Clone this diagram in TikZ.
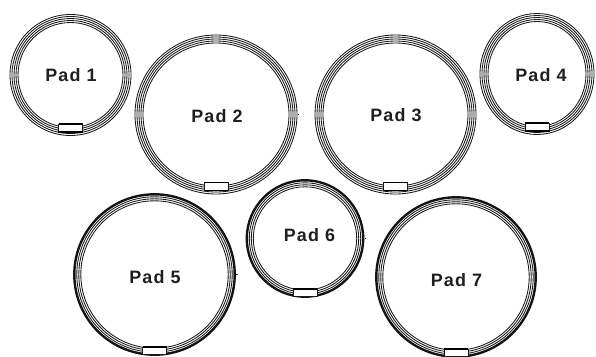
\documentclass[tikz,border=0pt]{standalone}
\usepackage{fontspec}
\newfontfamily\padfont{Liberation Sans}[LetterSpace=6]
\tikzset{
  padlabel/.style={font=\padfont\bfseries\fontsize{18}{20}\selectfont, text=black!88, inner sep=0pt},
  ring/.style={line width=0.85bp, draw=black!90},
  rim/.style={line width=2.4bp, draw=black!92},
  tabbox/.style={fill=white, draw=black!90, line width=0.9bp},
  notch/.style={line width=0.8bp, draw=black!85},
}
% thin-ringed pad: cx, cy, rx, ry
\newcommand\padthin[4]{%
  \foreach \k in {0,...,4}{%
    \draw[ring] (#1,#2) ellipse[x radius={(#3-0.5-2*\k)*1bp}, y radius={(#4-0.5-2*\k)*1bp}];}
  \draw[tabbox] (#1-12,#2+#4-12) rectangle (#1+12,#2+#4-4);
  \draw[line width=1.8bp] (#1-12,#2+#4-12) -- (#1+12,#2+#4-12);
  \draw[line width=1.4bp] (#1-12,#2+#4-4) -- (#1+12,#2+#4-4);
}
% thick-rimmed pad: cx, cy, r
\newcommand\padthick[3]{%
  \draw[rim] (#1,#2) circle[radius={(#3-1.3)*1bp}];
  \foreach \k in {0,...,2}{%
    \draw[ring] (#1,#2) circle[radius={(#3-3.8-2*\k)*1bp}];}
  \draw[tabbox] (#1-12,#2+#3-9) rectangle (#1+12,#2+#3-1.5);
  \draw[line width=1.6bp] (#1-12,#2+#3-9) -- (#1+12,#2+#3-9);
}
\begin{document}
\begin{tikzpicture}[x=1bp,y=-1bp]
  \useasboundingbox[fill=white] (0,0) rectangle (596,356);
  % top row
  \padthin{70.5}{75}{61}{61}
  \padthin{216}{114.5}{81.5}{80}
  \padthin{395.5}{114.5}{81}{80}
  \padthin{537}{74}{57.5}{61}
  % bottom row
  \padthick{154.5}{274.5}{81.5}
  \padthick{305}{238.5}{59.5}
  \padthick{456}{277}{81}
  % small notches on the right side
  \coordinate (n2) at (297.5,114.5);
  \coordinate (n5) at (236,274.5);
  \coordinate (n6) at (364.5,238.5);
  \draw[notch] (n2) -- ++(1.5,0);
  \draw[notch] (n5) -- ++(1.5,0);
  \draw[notch] (n6) -- ++(1.5,0);
  % labels
  \node[padlabel] (p1) at (71,75) {Pad 1};
  \node[padlabel] (p2) at (217,116) {Pad 2};
  \node[padlabel] (p3) at (396,115) {Pad 3};
  \node[padlabel] (p4) at (541,75) {Pad 4};
  \node[padlabel] (p5) at (155,277.5) {Pad 5};
  \node[padlabel] (p6) at (309.5,235.5) {Pad 6};
  \node[padlabel] (p7) at (456.5,280.5) {Pad 7};
\end{tikzpicture}
\end{document}
